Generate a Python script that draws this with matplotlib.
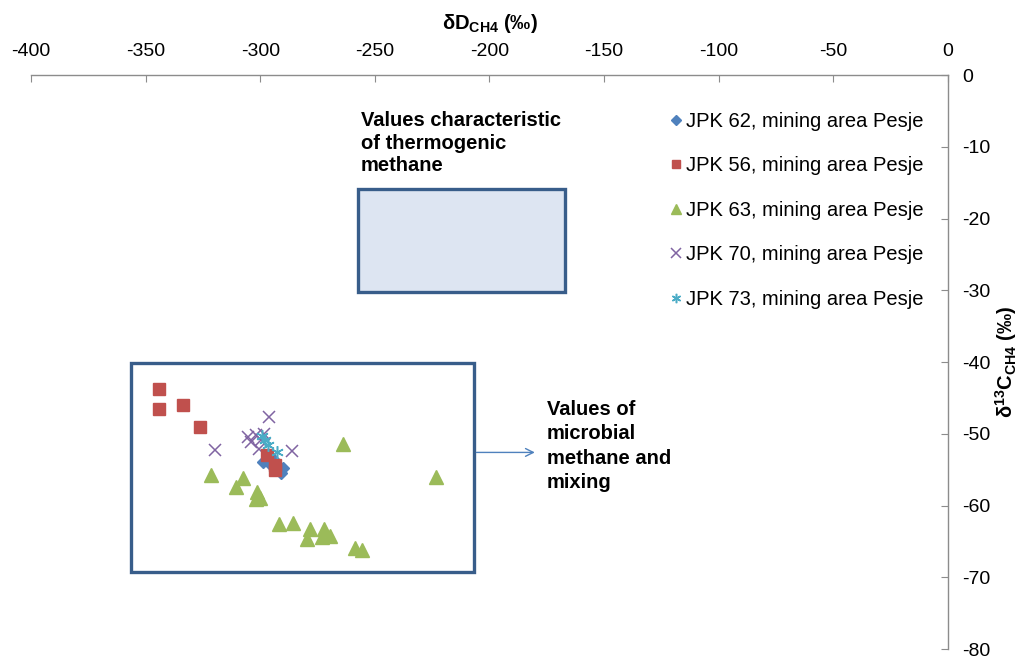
import matplotlib

matplotlib.use("Agg")
import matplotlib.pyplot as plt
from matplotlib.patches import Rectangle

plt.rcParams["font.family"] = ["Liberation Sans", "DejaVu Sans"]
plt.rcParams["mathtext.fontset"] = "custom"
plt.rcParams["mathtext.rm"] = "Liberation Sans"
plt.rcParams["mathtext.bf"] = "Liberation Sans:bold"
plt.rcParams["mathtext.it"] = "Liberation Sans:italic"

# isotope data: dD (permil), d13C (permil)
jpk62_dD = [-299, -297, -295, -293, -291, -296, -290, -294]
jpk62_d13C = [-54.0, -53.3, -54.5, -55.0, -55.5, -53.8, -54.8, -53.6]

jpk56_dD = [-344, -344, -333.5, -326.5, -297, -293.5, -293.5]
jpk56_d13C = [-43.7, -46.6, -46.0, -49.0, -53.0, -54.3, -55.0]

jpk63_dD = [-264, -223.3, -321.4, -307.4, -310.5, -301.4, -300, -301.7,
            -291.8, -285.6, -278.5, -279.6, -272, -269.4, -273, -258.8, -255.4]
jpk63_d13C = [-51.4, -56.0, -55.7, -56.1, -57.4, -58.1, -58.9, -59.1,
              -62.6, -62.4, -63.3, -64.7, -63.3, -64.3, -64.4, -65.9, -66.2]

jpk70_dD = [-296.4, -319.7, -286.3, -305.5, -301.9, -299.7, -298.2, -304, -300.4]
jpk70_d13C = [-47.6, -52.2, -52.4, -50.4, -50.2, -50.9, -50.0, -51.1, -52.1]

jpk73_dD = [-299.3, -292.7, -297.8, -296.5]
jpk73_d13C = [-50.3, -52.5, -50.8, -51.6]

series_labels = [
    "JPK 62, mining area Pesje",
    "JPK 56, mining area Pesje",
    "JPK 63, mining area Pesje",
    "JPK 70, mining area Pesje",
    "JPK 73, mining area Pesje",
]

x_ticks = [-400, -350, -300, -250, -200, -150, -100, -50, 0]
y_ticks = [0, -10, -20, -30, -40, -50, -60, -70, -80]

# genetic fields (dD range, d13C range)
thermo_dD = (-257.5, -167.1)
thermo_d13C = (-30.2, -15.9)
microbial_dD = (-356.4, -206.9)
microbial_d13C = (-69.3, -40.1)

fig = plt.figure(figsize=(10.21, 6.62), dpi=100)
ax = fig.add_axes([0.0304, 0.0196, 0.898, 0.8671])
ax.set_xlim(-400, 0)
ax.set_ylim(-80, 0)

for side in ("left", "bottom"):
    ax.spines[side].set_visible(False)
for side in ("top", "right"):
    ax.spines[side].set_color("#8c8c8c")
    ax.spines[side].set_linewidth(1.0)

ax.xaxis.tick_top()
ax.yaxis.tick_right()
ax.set_xticks(x_ticks)
ax.set_yticks(y_ticks)
ax.set_xticklabels([str(v) for v in x_ticks])
ax.set_yticklabels([str(v) for v in y_ticks])
ax.tick_params(axis="both", direction="in", length=5, color="#8c8c8c",
               labelsize=14)
ax.tick_params(axis="x", pad=11)
ax.tick_params(axis="y", pad=10)

ax.set_xlabel(r"δD$_{\mathbf{CH4}}$ (‰)", fontsize=14.5, fontweight="bold",
              labelpad=10)
ax.xaxis.set_label_position("top")
ax.set_ylabel(r"δ$^{\mathbf{13}}$C$_{\mathbf{CH4}}$ (‰)", fontsize=14.5,
              fontweight="bold", labelpad=2)
ax.yaxis.set_label_position("right")

box_edge = "#385d8a"
ax.add_patch(Rectangle((thermo_dD[0], thermo_d13C[0]),
                       thermo_dD[1] - thermo_dD[0],
                       thermo_d13C[1] - thermo_d13C[0],
                       facecolor="#dde5f2", edgecolor=box_edge, linewidth=2.4,
                       zorder=1))
ax.add_patch(Rectangle((microbial_dD[0], microbial_d13C[0]),
                       microbial_dD[1] - microbial_dD[0],
                       microbial_d13C[1] - microbial_d13C[0],
                       facecolor="white", edgecolor=box_edge, linewidth=2.4,
                       zorder=1))

ax.plot(jpk62_dD, jpk62_d13C, ls="none", marker="D", ms=6.5, color="#4f81bd",
        label=series_labels[0], zorder=3)
ax.plot(jpk56_dD, jpk56_d13C, ls="none", marker="s", ms=8.5, color="#c0504d",
        label=series_labels[1], zorder=4)
ax.plot(jpk63_dD, jpk63_d13C, ls="none", marker="^", ms=10, color="#9bbb59",
        label=series_labels[2], zorder=3)
ax.plot(jpk70_dD, jpk70_d13C, ls="none", marker="x", ms=9, mew=1.1,
        color="#8064a2", label=series_labels[3], zorder=3)
ax.plot(jpk73_dD, jpk73_d13C, ls="none", marker=(6, 2, 0), ms=9, mew=1.1,
        color="#4bacc6", label=series_labels[4], zorder=4)

ax.legend(loc="upper left", bbox_to_anchor=(0.689, 0.95), frameon=False,
          fontsize=14.5, handlelength=0.5, handletextpad=0.25,
          labelspacing=1.27, markerscale=0.75, borderaxespad=0)

ax.text(-256, -5.0, "Values characteristic\nof thermogenic\nmethane",
        fontsize=14.5, fontweight="bold", va="top", ha="left",
        linespacing=1.25)
ax.text(-175, -45.3, "Values of\nmicrobial\nmethane and\nmixing",
        fontsize=14.5, fontweight="bold", va="top", ha="left",
        linespacing=1.35)
ax.annotate("", xy=(-179, -52.6), xytext=(microbial_dD[1], -52.6),
            arrowprops=dict(arrowstyle="->", color="#4f81bd", lw=1.0,
                            mutation_scale=14))

fig.savefig("out.png", dpi=100)
